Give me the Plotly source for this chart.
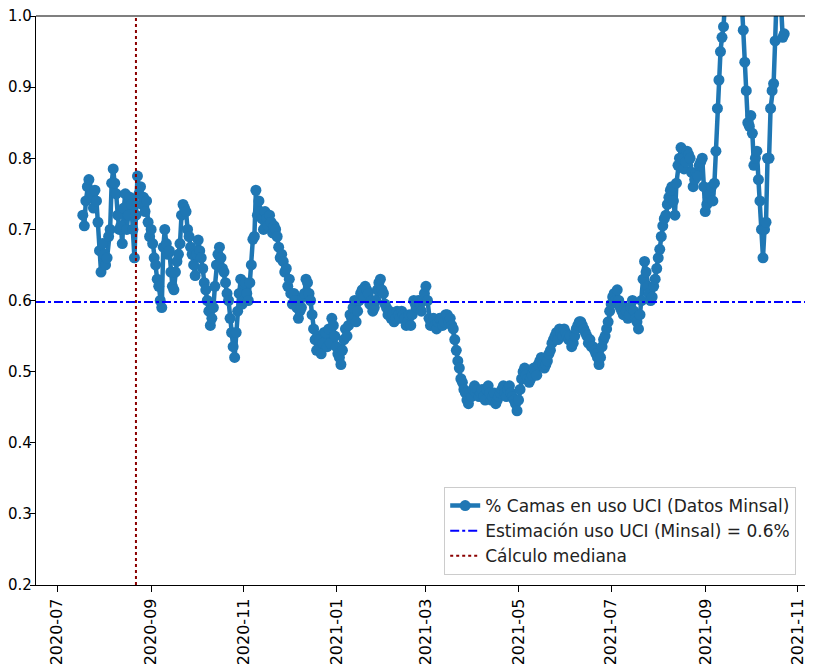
import pandas as pd
import plotly.graph_objects as go

# ---- data ----
start_date = "2020-07-18"          # first observation, daily values
uci_values = [
    0.72, 0.705, 0.74, 0.76, 0.77, 0.745, 0.75, 0.73, 0.755, 0.74, 0.71, 0.67, 0.64, 0.68, 0.665, 0.65, 0.66, 0.69, 0.70, 0.765,
    0.785, 0.765, 0.75, 0.72, 0.70, 0.705, 0.68, 0.73, 0.75, 0.70, 0.72, 0.745, 0.735, 0.70, 0.66, 0.72, 0.775, 0.75, 0.76, 0.735,
    0.745, 0.725, 0.74, 0.71, 0.69, 0.70, 0.68, 0.66, 0.65, 0.63, 0.62, 0.60, 0.59, 0.675, 0.70, 0.68, 0.665, 0.67, 0.64, 0.62,
    0.615, 0.64, 0.655, 0.665, 0.68, 0.72, 0.735, 0.73, 0.725, 0.70, 0.69, 0.675, 0.665, 0.65, 0.635, 0.665, 0.685, 0.67, 0.66, 0.645,
    0.625, 0.615, 0.60, 0.585, 0.565, 0.575, 0.59, 0.62, 0.65, 0.665, 0.675, 0.66, 0.645, 0.64, 0.625, 0.61, 0.60, 0.575, 0.555, 0.535,
    0.52, 0.555, 0.585, 0.61, 0.63, 0.595, 0.60, 0.625, 0.61, 0.60, 0.625, 0.65, 0.686, 0.69, 0.755, 0.72, 0.74, 0.725, 0.715, 0.70,
    0.725, 0.715, 0.705, 0.72, 0.71, 0.695, 0.705, 0.70, 0.69, 0.675, 0.66, 0.665, 0.655, 0.64, 0.645, 0.62, 0.63, 0.61, 0.595, 0.61,
    0.60, 0.59, 0.575, 0.585, 0.59, 0.605, 0.61, 0.63, 0.625, 0.61, 0.60, 0.58, 0.56, 0.545, 0.53, 0.55, 0.545, 0.525, 0.54, 0.555,
    0.555, 0.535, 0.56, 0.54, 0.575, 0.565, 0.55, 0.535, 0.525, 0.52, 0.51, 0.53, 0.545, 0.56, 0.55, 0.565, 0.58, 0.575, 0.59, 0.60,
    0.57, 0.585, 0.60, 0.61, 0.615, 0.605, 0.62, 0.615, 0.61, 0.595, 0.60, 0.585, 0.59, 0.60, 0.615, 0.625, 0.63, 0.615, 0.61, 0.595,
    0.59, 0.58, 0.585, 0.575, 0.58, 0.57, 0.575, 0.585, 0.58, 0.575, 0.585, 0.58, 0.575, 0.565, 0.57, 0.58, 0.565, 0.58, 0.60, 0.595,
    0.59, 0.60, 0.595, 0.585, 0.60, 0.61, 0.62, 0.60, 0.575, 0.565, 0.57, 0.575, 0.565, 0.56, 0.57, 0.575, 0.575, 0.565, 0.57, 0.58,
    0.58, 0.57, 0.575, 0.565, 0.56, 0.545, 0.53, 0.515, 0.505, 0.49, 0.485, 0.475, 0.47, 0.46, 0.455, 0.47, 0.465, 0.475, 0.48, 0.47,
    0.475, 0.465, 0.47, 0.475, 0.465, 0.46, 0.475, 0.48, 0.47, 0.46, 0.465, 0.47, 0.455, 0.46, 0.465, 0.47, 0.475, 0.48, 0.47, 0.465,
    0.475, 0.48, 0.47, 0.465, 0.46, 0.455, 0.445, 0.46, 0.475, 0.49, 0.50, 0.505, 0.495, 0.49, 0.485, 0.49, 0.495, 0.505, 0.50, 0.495,
    0.51, 0.515, 0.52, 0.51, 0.505, 0.51, 0.515, 0.525, 0.53, 0.54, 0.545, 0.55, 0.555, 0.545, 0.56, 0.555, 0.55, 0.56, 0.555, 0.55,
    0.545, 0.55, 0.535, 0.54, 0.55, 0.56, 0.565, 0.57, 0.57, 0.565, 0.56, 0.555, 0.55, 0.54, 0.545, 0.535, 0.535, 0.53, 0.525, 0.52,
    0.51, 0.52, 0.535, 0.545, 0.55, 0.56, 0.57, 0.585, 0.595, 0.605, 0.61, 0.60, 0.615, 0.60, 0.59, 0.585, 0.58, 0.59, 0.585, 0.575,
    0.58, 0.59, 0.60, 0.585, 0.575, 0.57, 0.56, 0.58, 0.60, 0.63, 0.655, 0.64, 0.62, 0.61, 0.60, 0.605, 0.62, 0.63, 0.645, 0.66,
    0.672, 0.69, 0.705, 0.715, 0.72, 0.735, 0.745, 0.755, 0.76, 0.74, 0.72, 0.765, 0.79, 0.80, 0.815, 0.80, 0.785, 0.795, 0.81, 0.805,
    0.80, 0.78, 0.76, 0.77, 0.78, 0.775, 0.79, 0.795, 0.80, 0.76, 0.725, 0.735, 0.745, 0.75, 0.76, 0.74, 0.765, 0.81, 0.87, 0.91,
    0.95, 0.97, 0.985, 1.02, 1.05, 1.07, 1.08, 1.09, 1.10, 1.10, 1.09, 1.08, 1.06, 1.04, 1.02, 0.98, 0.935, 0.895, 0.85, 0.845,
    0.86, 0.835, 0.79, 0.80, 0.81, 0.77, 0.74, 0.70, 0.66, 0.70, 0.71, 0.80, 0.80, 0.87, 0.895, 0.905, 0.965, 1.03, 1.02, 1.04,
    1.01, 0.97, 0.975,
]
estimacion_minsal = 0.598
fecha_mediana = "2020-08-22"

series_name = "% Camas en uso UCI (Datos Minsal)"
estimacion_name = "Estimación uso UCI (Minsal) = 0.6%"
mediana_name = "Cálculo mediana"

x_range = ["2020-06-17 04:00", "2021-11-16 05:00"]
y_range = [0.2, 1.0]
x_tick_dates = ["2020-07-01", "2020-09-01", "2020-11-01", "2021-01-01", "2021-03-01",
                "2021-05-01", "2021-07-01", "2021-09-01", "2021-11-01"]
x_tick_labels = ["2020-07", "2020-09", "2020-11", "2021-01", "2021-03",
                 "2021-05", "2021-07", "2021-09", "2021-11"]
y_tick_vals = [0.2, 0.3, 0.4, 0.5, 0.6, 0.7, 0.8, 0.9, 1.0]
y_tick_labels = ["0.2", "0.3", "0.4", "0.5", "0.6", "0.7", "0.8", "0.9", "1.0"]

dates = pd.date_range(start_date, periods=len(uci_values), freq="D")

FONT = "DejaVu Sans"

fig = go.Figure()

fig.add_trace(go.Scatter(
    x=dates, y=uci_values, mode="lines+markers", name=series_name,
    line=dict(color="#1f77b4", width=4.5),
    marker=dict(color="#1f77b4", size=11),
))

fig.add_trace(go.Scatter(
    x=x_range, y=[estimacion_minsal, estimacion_minsal], mode="lines",
    name=estimacion_name,
    line=dict(color="#0000ff", width=2, dash="dashdot"),
))

fig.add_trace(go.Scatter(
    x=[fecha_mediana, fecha_mediana], y=y_range, mode="lines",
    name=mediana_name,
    line=dict(color="#8b0000", width=2, dash="dot"),
))

fig.update_layout(
    width=813, height=672,
    margin=dict(l=28, r=0, t=8, b=95, autoexpand=False),
    paper_bgcolor="white", plot_bgcolor="white",
    font=dict(family=FONT, size=16, color="black"),
    showlegend=True,
    legend=dict(
        x=0.52, xanchor="left", y=0.0175, yanchor="bottom",
        bgcolor="rgba(255,255,255,0.8)", bordercolor="#cccccc", borderwidth=1,
        font=dict(family=FONT, size=17, color="#222222"),
        tracegroupgap=0,
    ),
)

fig.update_xaxes(
    type="date", range=x_range, automargin=False,
    tickmode="array", tickvals=x_tick_dates, ticktext=x_tick_labels,
    tickangle=-90, ticks="outside", ticklen=6, tickwidth=1.2, tickcolor="black",
    showline=True, linecolor="black", linewidth=1.2, mirror=False,
    showgrid=False, zeroline=False, ticklabeloverflow="allow",
    tickfont=dict(family=FONT, size=16, color="black"),
)
fig.update_yaxes(
    range=y_range, automargin=False,
    tickmode="array", tickvals=y_tick_vals, ticktext=y_tick_labels,
    ticks="outside", ticklen=5, tickwidth=1.2, tickcolor="black",
    ticklabelstandoff=-5, ticklabeloverflow="allow",
    showline=True, linecolor="black", linewidth=1.2, mirror=False,
    showgrid=False, zeroline=False,
    tickfont=dict(family=FONT, size=15, color="black"),
)

# top spine (matplotlib frame), no right spine visible in the crop
fig.add_shape(type="line", xref="paper", yref="paper", x0=0, x1=1, y0=1, y1=1,
              line=dict(color="black", width=1.2), layer="above")

fig.write_html("out.html")
